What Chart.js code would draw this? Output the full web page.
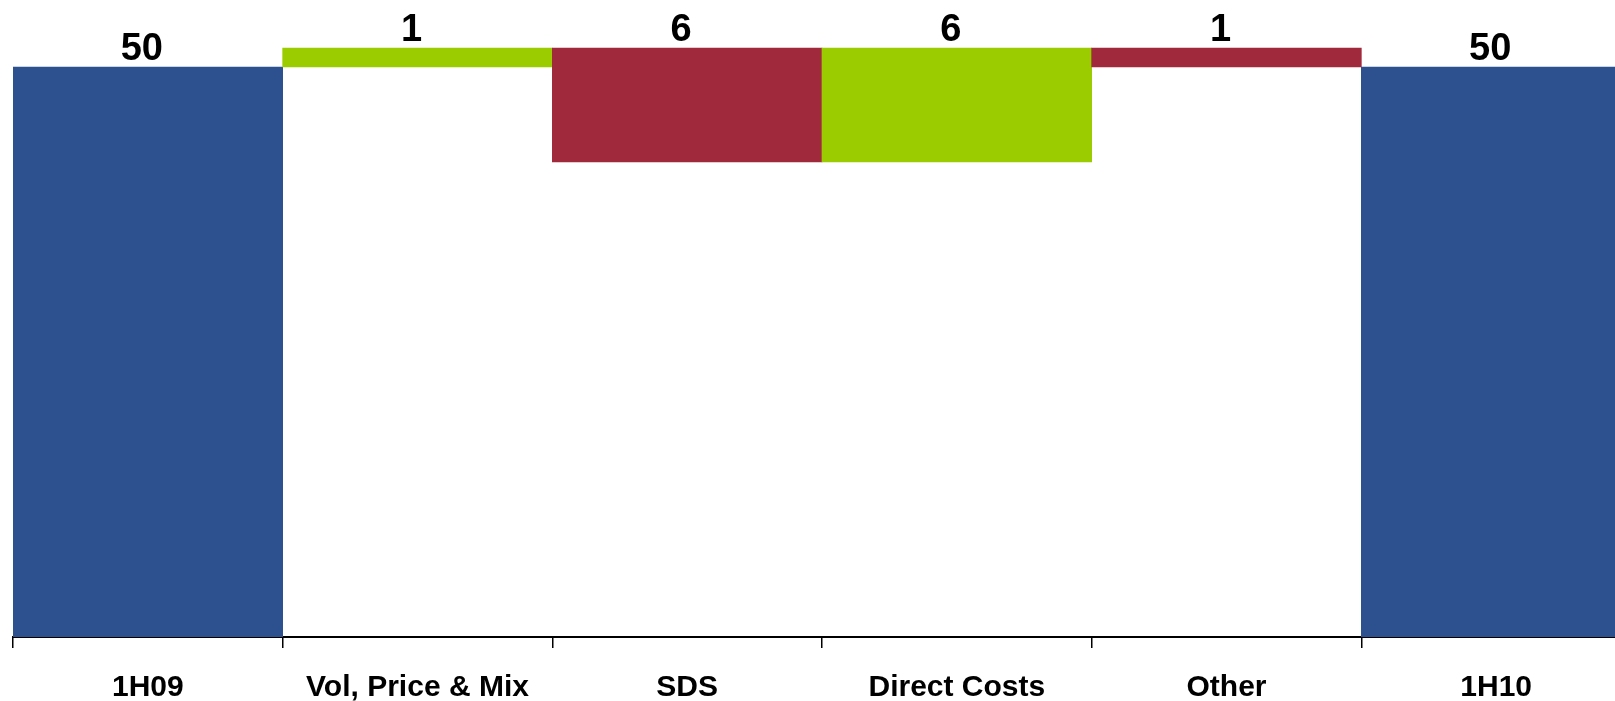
<!DOCTYPE html>
<html>
<head>
<meta charset="utf-8">
<script src="https://cdn.jsdelivr.net/npm/chart.js@4/dist/chart.umd.min.js"></script>
<style>
  html, body { margin: 0; padding: 0; background: #fff; overflow: hidden; }
  canvas { display: block; }
</style>
</head>
<body>
<canvas id="chart" width="1631" height="701"></canvas>
<script>
// waterfall: 1H09 -> 1H10
var categories = ['1H09', 'Vol, Price & Mix', 'SDS', 'Direct Costs', 'Other', '1H10'];
var changes = [50, 1, -6, 6, -1, 50];
var kinds = ['total', 'delta', 'delta', 'delta', 'delta', 'total'];

var BLUE = '#2D518F';
var GREEN = '#9BCC00';
var RED = '#A1293C';
var FONT = '"Liberation Sans", Arial, sans-serif';

// build floating ranges from the running total
var ranges = [];
var colors = [];
var running = 0;
for (var i = 0; i < changes.length; i++) {
  if (kinds[i] === 'total') {
    running = changes[i];
    ranges.push([0, running]);
    colors.push(BLUE);
  } else {
    ranges.push([running, running + changes[i]]);
    running += changes[i];
    colors.push(changes[i] >= 0 ? GREEN : RED);
  }
}

// value labels above each bar
var valueLabels = {
  id: 'valueLabels',
  afterDatasetsDraw: function(chart) {
    var ctx = chart.ctx;
    var meta = chart.getDatasetMeta(0);
    ctx.save();
    ctx.font = 'bold 38px ' + FONT;
    ctx.fillStyle = '#000';
    ctx.textAlign = 'center';
    ctx.textBaseline = 'alphabetic';
    meta.data.forEach(function(bar, i) {
      var top = Math.min(bar.y, bar.base);
      ctx.fillText(String(Math.abs(changes[i])), bar.x - 6, top - 7);
    });
    ctx.restore();
  }
};

var chart = new Chart(document.getElementById('chart'), {
  type: 'bar',
  data: {
    labels: categories,
    datasets: [{
      data: ranges,
      backgroundColor: colors,
      borderWidth: 0,
      borderSkipped: false,
      barPercentage: 1,
      categoryPercentage: 1
    }]
  },
  options: {
    responsive: false,
    animation: false,
    devicePixelRatio: 1,
    layout: { padding: { left: 13, top: 10, right: 0, bottom: 0 } },
    plugins: {
      legend: { display: false },
      tooltip: { enabled: false }
    },
    scales: {
      x: {
        offset: true,
        grid: {
          offset: true,
          drawOnChartArea: false,
          drawTicks: true,
          tickLength: 11,
          color: '#000',
          lineWidth: 1.5
        },
        border: { display: true, color: '#000', width: 2 },
        ticks: {
          color: '#000',
          font: { family: FONT, size: 30, weight: 'bold' },
          padding: 22,
          maxRotation: 0,
          autoSkip: false
        },
        afterFit: function(scale) { scale.height = 64; }
      },
      y: {
        display: false,
        min: 20,
        max: 53
      }
    }
  },
  plugins: [valueLabels]
});
</script>
</body>
</html>
